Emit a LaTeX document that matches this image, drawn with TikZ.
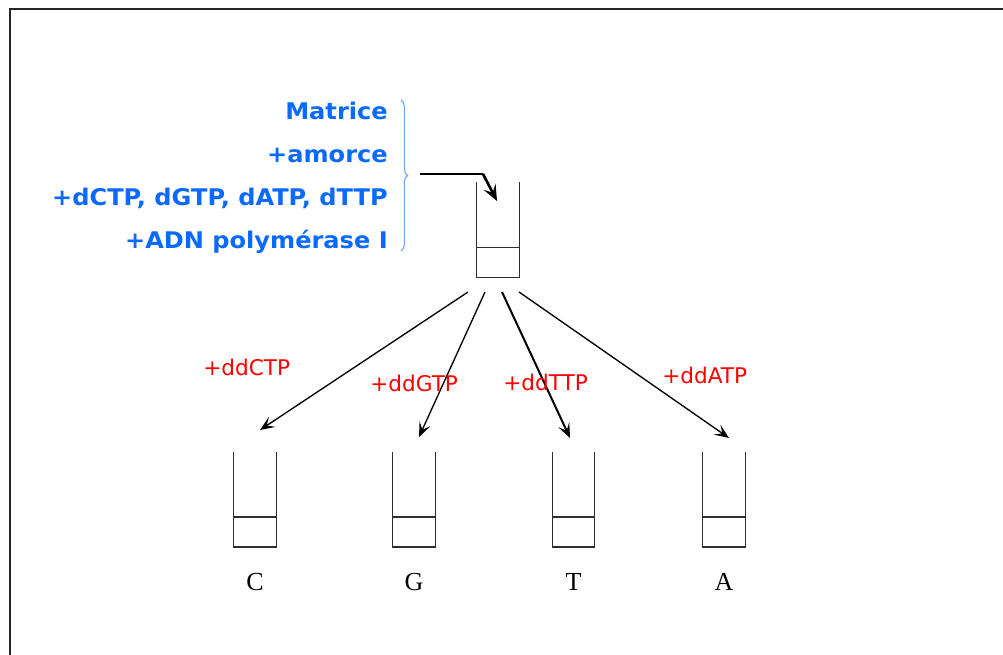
\documentclass[tikz,border=0pt]{standalone}
\usepackage{fontspec}
\setmainfont{Liberation Serif}
\newfontfamily\sansfam{DejaVu Sans}
\newfontfamily\widesans[FakeStretch=1.05]{DejaVu Sans}
\usetikzlibrary{arrows.meta,decorations.pathreplacing}
\definecolor{bluetxt}{RGB}{10,105,255}
\definecolor{bracecol}{RGB}{110,160,255}
\definecolor{redtxt}{RGB}{255,0,0}
\definecolor{tubecol}{RGB}{45,45,45}
\begin{document}
\begin{tikzpicture}[x=0.75pt,y=-0.75pt,
  tube/.style={minimum width=31.5pt,minimum height=71pt,inner sep=0pt,draw=none},
  bluelab/.style={anchor=base east,inner sep=0pt,text=bluetxt,font=\widesans\bfseries\fontsize{17.2}{20}\selectfont},
  redlab/.style={anchor=west,inner sep=0pt,text=redtxt,font=\sansfam\fontsize{16.2}{19}\selectfont},
  baselab/.style={inner sep=0pt,font=\fontsize{19.5}{22}\selectfont},
  tubeline/.style={draw=tubecol,line width=1.05pt},
  arr/.style={-{Stealth[length=11pt,width=9pt,inset=5pt]},line width=1pt}]
\useasboundingbox (0,0) rectangle (1003,655);
% frame
\draw[line width=0.5pt,gray!40] (10,8) -- (1003,8);
\draw[line width=1.5pt,black!85] (10,655) -- (10,9.5) -- (1003,9.5);
% blue labels
\node[bluelab] (l1) at (388,120) {Matrice};
\node[bluelab] (l2) at (388,163) {+amorce};
\node[bluelab] (l3) at (388,206) {+dCTP, dGTP, dATP, dTTP};
\node[bluelab] (l4) at (388,249) {+ADN polymérase I};
\coordinate (bt) at (401,100);
\coordinate (bb) at (401,251);
\draw[bracecol,line width=0.8pt,decorate,decoration={brace,amplitude=5pt}] (bt) -- (bb);
% top tube
\node[tube] (top) at (498,230) {};
\draw[tubeline] (top.north west) -- (top.south west) -- (top.south east) -- (top.north east);
\draw[tubeline] ([yshift=22.5pt]top.south west) -- ([yshift=22.5pt]top.south east);
% feed arrow
\coordinate (feed) at (420,174);
\coordinate (bend) at (483,174);
\coordinate (in) at (497,201);
\draw[line width=1pt] (feed) -- (bend);
\draw[line width=2pt,-{Stealth[length=12pt,width=10pt,inset=5pt]}] (bend) -- (in);
% bottom tubes
\node[tube] (tC) at (255,499.5) {};
\node[tube] (tG) at (414,499.5) {};
\node[tube] (tT) at (573.5,499.5) {};
\node[tube] (tA) at (724,499.5) {};
\foreach \t in {tC,tG,tT,tA}{
  \draw[tubeline] (\t.north west) -- (\t.south west) -- (\t.south east) -- (\t.north east);
  \draw[tubeline] ([yshift=22.5pt]\t.south west) -- ([yshift=22.5pt]\t.south east);
}
\node[baselab] (nC) at ([yshift=-26pt]tC.south) {C};
\node[baselab] (nG) at ([yshift=-26pt]tG.south) {G};
\node[baselab] (nT) at ([yshift=-26pt]tT.south) {T};
\node[baselab] (nA) at ([yshift=-26pt]tA.south) {A};
% arrows
\coordinate (s1) at (468,292);
\coordinate (s2) at (485,292);
\coordinate (s3) at (502,292);
\coordinate (s4) at (519,292);
\coordinate (e1) at (260,430);
\coordinate (e2) at (419,437);
\coordinate (e3) at (570,438);
\coordinate (e4) at (729,438);
\draw[arr] (s1) -- (e1);
\draw[arr] (s2) -- (e2);
\draw[arr,line width=1.5pt] (s3) -- (e3);
\draw[arr] (s4) -- (e4);
% red labels
\node[redlab] (r1) at (203,367) {+ddCTP};
\node[redlab] (r2) at (370,383) {+ddGTP};
\node[redlab] (r3) at (503,382) {+ddTTP};
\node[redlab] (r4) at (662,375) {+ddATP};
\end{tikzpicture}
\end{document}
